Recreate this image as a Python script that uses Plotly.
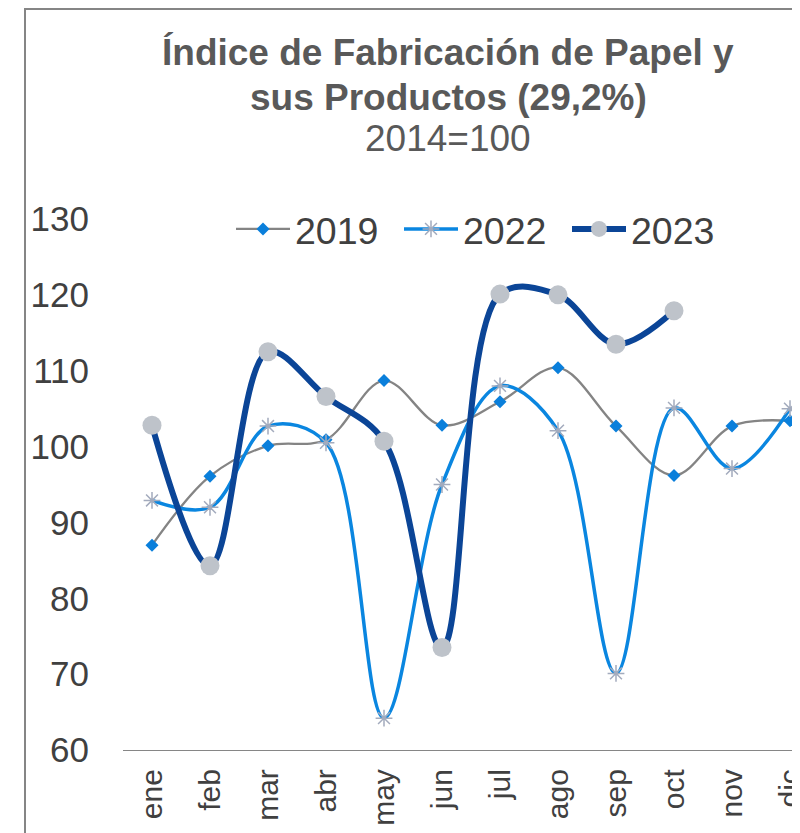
import plotly.graph_objects as go

months = ["ene", "feb", "mar", "abr", "may", "jun", "jul", "ago", "sep", "oct", "nov", "dic"]
y2019 = [87.0, 96.1, 100.1, 100.9, 108.7, 102.8, 105.9, 110.4, 102.7, 96.2, 102.7, 103.4]
y2022 = [92.9, 92.0, 102.7, 100.5, 64.2, 95.0, 108.0, 102.1, 70.1, 105.1, 97.1, 105.0]
y2023 = [102.8, 84.3, 112.5, 106.6, 100.7, 73.5, 120.1, 120.0, 113.5, 117.9]

y_ticks = [60, 70, 80, 90, 100, 110, 120, 130]

OFF = 8  # page body margin
W, H = 800, 833
L, T = 123 - OFF, 219 - OFF
B = H - (750 - OFF)
R = 0
PW, PH = W - L - R, H - T - B

def px(x):
    return (x - OFF - L) / PW

def py(y):
    return (H - B - (y - OFF)) / PH

FONT = "Liberation Sans, Arial, sans-serif"
TXT = "#404040"

fig = go.Figure()
fig.add_trace(go.Scatter(
    x=months, y=y2019, name="2019", mode="lines+markers",
    line=dict(color="#848484", width=2.3, shape="spline", smoothing=1),
    marker=dict(symbol="diamond", size=10, color="#0A7FDB"),
    cliponaxis=False,
))
fig.add_trace(go.Scatter(
    x=months, y=y2022, name="2022", mode="lines+markers",
    line=dict(color="#0A86E0", width=3.5, shape="spline", smoothing=1),
    marker=dict(symbol="asterisk-open", size=14, color="#A3ABBD",
                line=dict(color="#A3ABBD", width=1.5)),
    cliponaxis=False,
))
fig.add_trace(go.Scatter(
    x=months[:len(y2023)], y=y2023, name="2023", mode="lines+markers",
    line=dict(color="#0B4597", width=6, shape="spline", smoothing=1),
    marker=dict(symbol="circle", size=19, color="#BEC3CA"),
    cliponaxis=False,
))

fig.update_layout(
    width=W, height=H,
    margin=dict(l=L, r=R, t=T, b=B, pad=0),
    paper_bgcolor="white", plot_bgcolor="white",
    font=dict(family=FONT, color=TXT),
    showlegend=True,
    legend=dict(
        orientation="h", x=px(231), xanchor="left", y=py(229), yanchor="middle",
        font=dict(size=37.5, color=TXT, family=FONT), itemwidth=54,
        entrywidth=99, entrywidthmode="pixels",
        bgcolor="rgba(0,0,0,0)", tracegroupgap=0,
    ),
    xaxis=dict(
        range=[-0.5, -0.5 + PW / 58.0], showgrid=False, zeroline=False,
        showline=True, linecolor="#868686", linewidth=1.3,
        ticks="", tickangle=-90, tickfont=dict(size=30, color=TXT),
        ticklabelstandoff=6,
    ),
    yaxis=dict(
        range=[60, 130], tickvals=y_ticks, showgrid=False, zeroline=False,
        showline=False, ticks="", tickfont=dict(size=35, color=TXT),
        ticklabelstandoff=33,
    ),
)

fig.add_shape(type="rect", xref="paper", yref="paper",
              x0=px(25), x1=px(900), y0=py(900), y1=py(9),
              line=dict(color="#858585", width=2), fillcolor="rgba(0,0,0,0)", layer="below")

title_font = dict(family=FONT, color="#595959")
fig.add_annotation(text="<b>Índice de Fabricación de Papel y</b>", xref="paper", yref="paper",
                   x=px(448), y=py(52), xanchor="center", yanchor="middle", showarrow=False,
                   font=dict(size=37, **title_font))
fig.add_annotation(text="<b>sus Productos (29,2%)</b>", xref="paper", yref="paper",
                   x=px(448), y=py(97), xanchor="center", yanchor="middle", showarrow=False,
                   font=dict(size=37, **title_font))
fig.add_annotation(text="2014=100", xref="paper", yref="paper",
                   x=px(448), y=py(138), xanchor="center", yanchor="middle", showarrow=False,
                   font=dict(size=37, **title_font))

fig.write_html("out.html")
